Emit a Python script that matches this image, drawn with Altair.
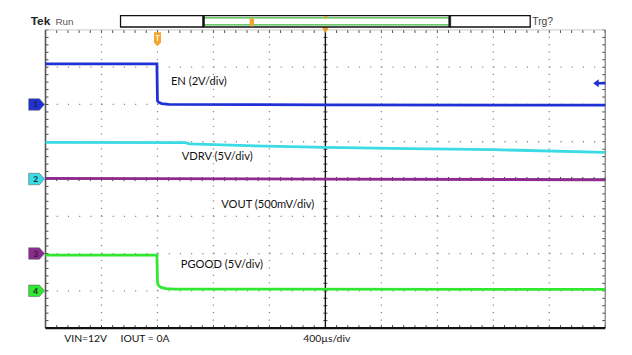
import altair as alt
import pandas as pd
import numpy as np

# ---------------- data ----------------
# time in µs relative to trigger, 400 µs/div, 10 divisions on screen
T_MIN, T_MAX = -800, 3200
ch_names = ["EN", "VDRV", "VOUT", "PGOOD"]
ch_labels = ["EN (2V/div)", "VDRV (5V/div)", "VOUT (500mV/div)", "PGOOD (5V/div)"]
ch_numbers = ["1", "2", "3", "4"]
ch_scale = [2.0, 5.0, 0.5, 5.0]      # V/div
ch_ref = [2.0, 0.0, -2.0, -3.0]      # ground-reference marker position (div)

en_t = [-800, -4, 0, 8, 30, 80, 1200, 3200]
en_v = [2.18, 2.18, 0.2, 0.12, 0.05, 0.0, -0.02, -0.04]
vdrv_t = [-800, 200, 230, 640, 1200, 1800, 2400, 3200]
vdrv_v = [4.9, 4.88, 4.72, 4.47, 4.24, 4.08, 3.94, 3.58]
vout_t = [-800, 1200, 3200]
vout_v = [1.01, 1.0, 0.99]
pg_t = [-800, -4, 0, 6, 25, 60, 120, 3200]
pg_v = [4.8, 4.8, 1.2, 0.75, 0.45, 0.3, 0.22, 0.2]
trig_level = 1.14   # V, channel 1

footer_left = ["VIN=12V", "IOUT = 0A"]
footer_tb = "400µs/div"

# ---------------- styles ----------------
ch_colors = ["#1f30d4", "#3adbe4", "#8e2a90", "#30e830"]
marker_colors = ["#4b5bd6", "#7cc6c6", "#a783a8", "#84cc84"]
W, H = 567, 302
FONT = "Lato"

series = [(en_t, en_v), (vdrv_t, vdrv_v), (vout_t, vout_v), (pg_t, pg_v)]
rows = []
for i, (ts, vs) in enumerate(series):
    for k, (t, v) in enumerate(zip(ts, vs)):
        rows.append({"ch": ch_names[i], "t": t, "v": v, "k": k,
                     "d": ch_ref[i] + v / ch_scale[i]})
traces = pd.DataFrame(rows)

xs = alt.Scale(domain=[T_MIN, T_MAX], nice=False, zero=False)
ys = alt.Scale(domain=[-4, 4], nice=False, zero=False)
X = lambda f="t": alt.X(f"{f}:Q", scale=xs, axis=None)
Y = lambda f="d": alt.Y(f"{f}:Q", scale=ys, axis=None)
one = pd.DataFrame({"a": [0]})

layers = []

# dotted graticule
vgrid = pd.DataFrame({"t": [-400, 0, 400, 800, 1600, 2000, 2400, 2800]})
hgrid = pd.DataFrame({"d": [-3, -2, -1, 1, 2, 3]})
layers.append(alt.Chart(vgrid).mark_rule(color="#8a8a8a", strokeWidth=1.3, strokeDash=[1.2, 6.34])
              .encode(x=X(), y=alt.value(H), y2=alt.value(0)))
layers.append(alt.Chart(hgrid).mark_rule(color="#8a8a8a", strokeWidth=1.3, strokeDash=[1.2, 10.14])
              .encode(y=Y(), x=alt.value(0), x2=alt.value(W)))

# minor ticks
mt = np.arange(T_MIN, T_MAX + 1, 80)
md = np.round(np.arange(-4, 4.001, 0.2), 3)
dt = 3.0 / W * (T_MAX - T_MIN)   # ~3 px in time units
dd = 3.0 / H * 8                 # ~3 px in div units
tick_sets = [
    pd.DataFrame({"t": mt, "t2": mt, "d": 4.0, "d2": 4.0 - dd}),
    pd.DataFrame({"t": mt, "t2": mt, "d": -4.0, "d2": -4.0 + dd}),
    pd.DataFrame({"t": mt, "t2": mt, "d": -dd * 0.7, "d2": dd * 0.7}),
    pd.DataFrame({"t": 1200 - dt * 0.7, "t2": 1200 + dt * 0.7, "d": md, "d2": md}),
    pd.DataFrame({"t": T_MIN, "t2": T_MIN + dt, "d": md, "d2": md}),
    pd.DataFrame({"t": T_MAX - dt, "t2": T_MAX, "d": md, "d2": md}),
]
for ts_ in tick_sets:
    layers.append(alt.Chart(ts_).mark_rule(color="#444", strokeWidth=1)
                  .encode(x=X(), x2="t2:Q", y=Y(), y2="d2:Q"))

# frame and crosshair
def vline(t, color, width):
    return alt.Chart(pd.DataFrame({"t": [t]})).mark_rule(color=color, strokeWidth=width).encode(
        x=X(), y=alt.value(H), y2=alt.value(0))

def hline(d, color, width):
    return alt.Chart(pd.DataFrame({"d": [d]})).mark_rule(color=color, strokeWidth=width).encode(
        y=Y(), x=alt.value(0), x2=alt.value(W))

layers += [hline(4, "#c8c8c8", 1), hline(0, "#333", 1), vline(1200, "#111", 1.4),
           vline(T_MIN, "#555", 1.6), vline(T_MAX, "#777", 1.2), hline(-4, "#111", 2.2)]

# traces
layers.append(alt.Chart(traces).mark_line(strokeWidth=2.8, strokeJoin="miter").encode(
    x=X(), y=Y(),
    color=alt.Color("ch:N", scale=alt.Scale(domain=ch_names, range=ch_colors), legend=None),
    order="k:Q"))

# channel reference markers on the left
mk = pd.DataFrame({"ch": ch_names, "d": ch_ref, "n": ch_numbers})
pent = "M-1,-0.72 L0.35,-0.72 L1,0 L0.35,0.72 L-1,0.72 Z"
layers.append(alt.Chart(mk).mark_point(shape=pent, size=260, filled=True, opacity=1,
                                       stroke="#666", strokeWidth=0.6).encode(
    x=alt.value(-9), y=Y(),
    color=alt.Color("ch:N", scale=alt.Scale(domain=ch_names, range=marker_colors), legend=None)))
layers.append(alt.Chart(mk).mark_text(font=FONT, fontSize=8.5, fontWeight="bold", color="#223",
                                      align="center", baseline="middle").encode(
    x=alt.value(-10), y=Y(), text="n:N"))

# trigger level arrow (ch1) on the right
trg = pd.DataFrame({"d": [ch_ref[0] + trig_level / ch_scale[0]]})
arrow = "M-1,0 L-0.1,-0.65 L-0.1,-0.22 L1,-0.22 L1,0.22 L-0.1,0.22 L-0.1,0.65 Z"
layers.append(alt.Chart(trg).mark_point(shape=arrow, size=150, filled=True, opacity=1,
                                        color=ch_colors[0]).encode(x=alt.value(W - 6), y=Y()))

# trigger position markers
tag = "M-0.5,-1 L0.5,-1 L0.5,0.45 L0,1 L-0.5,0.45 Z"
tpos = pd.DataFrame({"t": [0]})
layers.append(alt.Chart(tpos).mark_point(shape=tag, size=200, filled=True, opacity=1,
                                         color="#f3a530").encode(x=X(), y=alt.value(9.5)))
layers.append(alt.Chart(tpos).mark_text(text="T", font=FONT, fontSize=8.5, fontWeight="bold",
                                        color="#fff3d0", baseline="middle").encode(
    x=X(), y=alt.value(8.5)))
cpos = pd.DataFrame({"t": [1200]})
layers.append(alt.Chart(cpos).mark_point(shape="triangle-down", size=50, filled=True, opacity=1,
                                         color="#f0a020").encode(x=X(), y=alt.value(0)))

# channel labels
lab_xy = [(127, 52.5), (138, 128.5), (178, 177), (137, 238)]
for s, (lx, ly) in zip(ch_labels, lab_xy):
    layers.append(alt.Chart(one).mark_text(text=s, font=FONT, fontSize=11.3, color="#111",
                                           align="left", baseline="middle").encode(
        x=alt.value(lx), y=alt.value(ly)))

# status bar
def rect(x1, x2, y1, y2, fill, stroke, sw):
    return alt.Chart(one).mark_rect(fill=fill, stroke=stroke, strokeWidth=sw).encode(
        x=alt.value(x1), x2=alt.value(x2), y=alt.value(y1), y2=alt.value(y2))

layers += [rect(76, 491, -14.5, -3, "white", "#111", 1.3),
           rect(160.5, 409, -12.3, -5.2, "white", "#3db83d", 1.2),
           rect(159, 161, -14.5, -3, "#111", "#111", 0.5),
           rect(408.5, 410.5, -14.5, -3, "#111", "#111", 0.5)]
layers.append(alt.Chart(one).mark_point(shape=tag, size=80, filled=True, opacity=1,
                                        color="#f3a530").encode(x=alt.value(209), y=alt.value(-7.5)))
layers.append(alt.Chart(one).mark_point(shape="triangle-down", size=14, filled=True, opacity=1,
                                        color="#e8a030").encode(x=alt.value(284), y=alt.value(-12.5)))
layers.append(alt.Chart(one).mark_text(text="Tek", font="Liberation Sans", fontSize=12,
                                       fontWeight="bold", color="#222", align="left",
                                       baseline="alphabetic").encode(x=alt.value(-15), y=alt.value(-5)))
layers.append(alt.Chart(one).mark_text(text="Run", font="Liberation Sans", fontSize=10,
                                       color="#555", align="left",
                                       baseline="alphabetic").encode(x=alt.value(10), y=alt.value(-5)))
layers.append(alt.Chart(one).mark_text(text="Trg?", font="Liberation Sans", fontSize=10.5,
                                       color="#444", align="left",
                                       baseline="alphabetic").encode(x=alt.value(493), y=alt.value(-5)))

# footer
for s, fx in zip(footer_left + [footer_tb], [19, 76, 261]):
    layers.append(alt.Chart(one).mark_text(text=s, font=FONT, fontSize=10.5, color="#111",
                                           align="left", baseline="middle").encode(
        x=alt.value(fx), y=alt.value(313.5)))

chart = alt.layer(*layers).properties(
    width=W, height=H,
    padding={"left": 38, "top": 20, "right": 19, "bottom": 22},
    autosize=alt.AutoSizeParams(type="none"),
    background="white",
).configure_view(stroke=None)

chart.save("out.html", embed_options={"renderer": "svg", "actions": False})
